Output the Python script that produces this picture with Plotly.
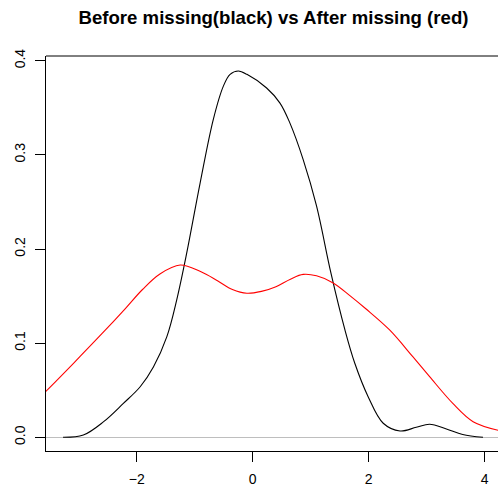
import plotly.graph_objects as go

# Density before missing (black)
before_x = [-3.27, -2.92, -2.57, -2.23, -1.94, -1.71, -1.48, -1.31, -1.14, -0.907, -0.678,
            -0.506, -0.39, -0.248, -0.10, 0.24, 0.47, 0.64, 0.87, 1.10, 1.35, 1.59,
            1.76, 1.99, 2.25, 2.54, 2.82, 3.05, 3.34, 3.62, 3.97]
before_y = [0.0, 0.0024, 0.0166, 0.036, 0.0537, 0.075, 0.107, 0.146, 0.195, 0.270, 0.338,
            0.373, 0.3855, 0.389, 0.3855, 0.371, 0.355, 0.334, 0.295, 0.2457, 0.174, 0.114,
            0.0786, 0.0431, 0.0149, 0.0067, 0.0106, 0.0138, 0.0088, 0.003, 0.0]

# Density after missing (red)
after_x = [-3.6, -3.09, -2.6, -2.2, -1.9, -1.6, -1.25, -0.9, -0.6, -0.35, -0.1, 0.15, 0.4,
           0.65, 0.87, 1.1, 1.387, 1.675, 1.95, 2.36, 2.76, 3.05, 3.45, 3.80, 4.25]
after_y = [0.0466, 0.0786, 0.110, 0.1365, 0.157, 0.1735, 0.183, 0.176, 0.166, 0.157, 0.153, 0.155,
           0.160, 0.168, 0.173, 0.1715, 0.164, 0.1505, 0.1365, 0.114, 0.0856, 0.0644, 0.036,
           0.0166, 0.0072]

x_ticks = [-2, 0, 2, 4]
y_ticks = [0.0, 0.1, 0.2, 0.3, 0.4]
title = "Before missing(black) vs After missing (red)"

W, H = 498, 487
L, T, B, R = 46, 56, 36, 0

fig = go.Figure()
fig.add_trace(go.Scatter(x=before_x, y=before_y, mode="lines",
                         line=dict(color="black", width=1.1, shape="spline", smoothing=1.0),
                         showlegend=False, hoverinfo="skip"))
fig.add_trace(go.Scatter(x=after_x, y=after_y, mode="lines",
                         line=dict(color="#ff0000", width=1.1, shape="spline", smoothing=1.0),
                         showlegend=False, hoverinfo="skip"))

font = "Liberation Sans, Arial, sans-serif"
fig.update_layout(
    width=W, height=H,
    margin=dict(l=L, r=R, t=T, b=B, pad=0, autoexpand=False),
    paper_bgcolor="white", plot_bgcolor="white",
    font=dict(family=font, size=14, color="black"),
    title=dict(text=title, x=273.5 / W, xref="container", xanchor="center",
               y=1 - 17 / H, yref="container", yanchor="middle", automargin=False,
               font=dict(family=font, size=18.6, color="black", weight="bold")),
    xaxis=dict(range=[-3.564, 4.229], tickvals=x_ticks, ticks="outside", ticklen=10,
               tickcolor="black", tickwidth=1, showgrid=False, zeroline=False,
               showline=True, linecolor="black", linewidth=1, ticklabelstandoff=5,
               tickfont=dict(size=14), automargin=False),
    yaxis=dict(range=[-0.01455, 0.405], tickvals=y_ticks, tickformat=".1f", ticks="outside",
               ticklen=10, tickcolor="black", tickwidth=1, showgrid=False,
               zeroline=True, zerolinecolor="#bebebe", zerolinewidth=1,
               showline=True, linecolor="black", linewidth=1, tickangle=-90,
               ticklabelstandoff=4, tickfont=dict(size=14), automargin=False),
    shapes=[dict(type="line", xref="paper", yref="paper", x0=0, x1=1, y0=1, y1=1,
                 line=dict(color="black", width=1))],
)

fig.write_html("out.html")
